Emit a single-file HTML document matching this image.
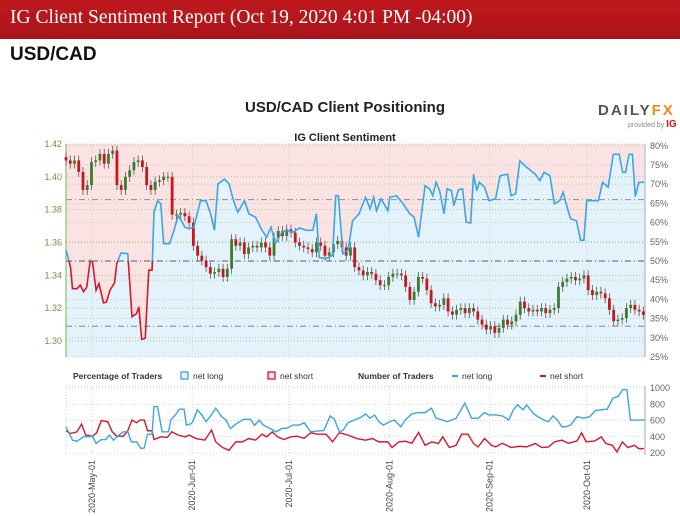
<!DOCTYPE html>
<html><head><meta charset="utf-8">
<style>
body{margin:0;background:#fff;width:680px;height:516px;overflow:hidden;font-family:"Liberation Sans",sans-serif}
#hdr{position:absolute;left:0;top:0;width:680px;height:39px;background:linear-gradient(#c0191e,#a8141a);}
#hdr span{position:absolute;left:10px;top:7px;font-family:"Liberation Serif",serif;font-size:19.5px;color:#fff;white-space:nowrap}
#pair{position:absolute;left:10px;top:44px;font-size:19px;font-weight:bold;color:#111}
svg{position:absolute;left:0;top:0}
</style></head><body>
<div id="hdr"><span>IG Client Sentiment Report (Oct 19, 2020 4:01 PM -04:00)</span></div>
<div id="pair">USD/CAD</div>
<svg id="c" width="680" height="516"></svg>
<script>
const closes=[1.410,1.408,1.410,1.403,1.392,1.395,1.409,1.410,1.414,1.408,1.414,1.416,1.395,1.392,1.400,1.404,1.409,1.410,1.406,1.395,1.392,1.397,1.398,1.400,1.400,1.377,1.377,1.378,1.376,1.372,1.358,1.352,1.349,1.345,1.341,1.342,1.344,1.339,1.344,1.362,1.358,1.360,1.353,1.357,1.358,1.357,1.360,1.357,1.352,1.363,1.367,1.364,1.368,1.366,1.360,1.358,1.357,1.356,1.354,1.360,1.358,1.352,1.354,1.359,1.361,1.357,1.352,1.357,1.345,1.343,1.340,1.342,1.341,1.337,1.334,1.334,1.339,1.341,1.341,1.340,1.333,1.325,1.330,1.339,1.338,1.331,1.323,1.321,1.322,1.326,1.318,1.316,1.319,1.320,1.317,1.320,1.318,1.313,1.310,1.307,1.309,1.305,1.308,1.313,1.310,1.312,1.316,1.324,1.320,1.318,1.319,1.318,1.320,1.317,1.319,1.320,1.333,1.336,1.338,1.339,1.337,1.338,1.340,1.331,1.328,1.330,1.329,1.326,1.319,1.312,1.313,1.314,1.320,1.322,1.319,1.318,1.316];
const sentDays=[0,1.4,2,3.4,4.4,5.4,6.4,7.5,8.2,9.3,10.2,11.6,12.5,13.6,15,15.7,17,19.1,20.4,21.8,22.5,23.4,24.5,25.6,26.6,27.2,28.3,29.3,30.2,32,33.4,34.7,36.8,38.1,39.5,41.6,43.3,44.7,45.9,47,49,50.4,51.8,53.1,55.2,56.5,58.6,60.6,62,63.4,64.7,66.8,68.1,70.2,72.2,74.3,76.3,77.4,78.3,80.4,82.4,83.4,84.2,85.6,87.2,88.6,90.6,92.6,94,95.1,96,97.4,99.5,100.1,102.2,104.2,106.3,107.6,109,111,112.4,113.4,114.4,115.5,116.9,117.8,119.2,119.9,121.3,122.6,123.7,125.1,126,127,127.8,129.4,130.8,132.8,134.2,136.5,137.6,139,140.3,142.4,145.1,146.5,147.8,149.6,151,152.6,153.7,154.6,156,157.8,159.1,160.1,161,162.8,164.6,165.9,167.6,169.2,171,172.1,173,174.1,175.1,176,177.1,178.7];
const sentPct=[52.9,48.4,42.8,42.8,43.7,42,43.1,50.2,49.7,42.4,44.1,39.1,39.3,42.4,44.3,49.3,52.1,51.9,35.5,36.3,38.1,29.6,29.9,47.6,47.6,62.7,65.7,64.9,54.5,54.5,58,61.8,58.8,58.4,58.8,65.7,65.7,62.3,58,70.1,71.3,70.1,65.7,62.7,65.7,62.3,61.4,58,56.2,58.8,54.5,57.5,58,57.5,58.6,58,58,62.3,50.9,50.6,51.5,67,67,51.9,52.8,60.5,62.3,66.6,63.6,66.6,63.1,66.2,63.1,66.6,67,64.9,62.3,61.4,56.2,69.6,68.8,67,70.5,68.3,62.3,68.8,68.3,64.4,68.5,68.8,60.1,59.9,72.6,68.3,70.5,69.2,65.7,66.2,72.2,72.6,67,67.5,76.1,74.4,72.6,70.9,73.1,72.2,64.9,65.7,67.9,64.9,61,60.5,55.4,55.4,65.7,65.7,65.7,70.5,69.2,77.8,77.8,73.1,73.1,77.8,77.8,66.8,70.5,70.5];
const longDays=[0,2,3.4,5.4,6.8,8.2,9.3,10.9,12.3,13.4,14.7,16.3,17.7,19.1,20.2,21.8,23.2,24.2,25.2,26.6,27.2,28.3,29.7,31.7,32.4,33.8,35.1,36.5,37.2,38.6,39.2,40.6,42,43.3,44.7,46.3,48.1,49.5,50.8,52.9,54.9,57,58.3,59.7,61,62,65,66.8,68.1,70.2,72.2,73.6,75.6,77.7,79.7,81.7,83,84.5,85.6,87.2,89.2,91.2,92.6,94,95.4,96.7,98.1,100.1,101.5,103.5,104.9,106.9,108.9,111,113,114.4,115.7,117.8,120.6,123.3,125.4,127.4,129.4,130.8,132.8,134.9,136.9,138.3,139.6,141.3,142.4,144.4,145.8,147.8,149.2,150.5,151.9,153.3,154.6,156,158,160.1,161.9,163.7,165.3,167.3,169.1,170.7,172.1,173.4,174.5,176.3,179.1];
const longVals=[523,358,345,399,399,407,316,366,366,420,358,420,461,461,337,337,254,262,432,432,772,772,461,461,606,668,739,739,544,560,585,731,668,585,656,751,648,606,503,565,615,615,540,606,544,523,461,503,503,544,544,573,461,470,478,656,615,461,478,573,606,639,681,627,668,585,544,585,606,523,606,681,697,697,751,627,615,585,627,813,627,627,697,668,668,656,606,731,793,731,793,690,648,606,585,656,606,523,523,544,648,627,648,722,731,739,876,896,979,979,606,606,606];
const shortDays=[0,1.4,3.4,4.8,6.1,8.2,9.5,10.9,12.9,14.3,15.7,17.7,19.1,20.4,21.8,22.9,24.2,25.2,26.6,27.2,29.3,31.3,32.7,34.7,36.8,38.1,40.2,42.9,45,46.3,48.4,50.4,52.5,54.5,56.5,58.6,60.6,62,63.8,65.4,67.4,69.5,71.5,73.6,75.6,77.7,80.4,82.4,84.5,87.2,89.9,92.6,94.7,96.7,99.5,100.8,102.9,104.9,106.9,109,111,113.1,115.1,116.5,118.5,120.6,122.3,124.3,126,127.4,129.4,131.5,132.8,134.9,137.6,140.3,142.4,145.1,147.1,149.2,151,153.3,155.3,158,159.4,160.8,163.5,165.5,166.9,168.9,170.3,172,173.7,175.7,177.1,178.7];
const shortVals=[474,440,461,556,420,407,449,598,586,461,407,407,474,606,573,606,606,474,474,366,399,392,461,420,399,420,378,358,482,337,267,234,337,337,378,358,432,399,461,399,366,399,407,380,449,432,432,337,449,420,378,358,378,337,337,267,337,345,320,453,295,337,316,399,267,295,432,432,316,275,378,295,275,320,267,283,275,316,267,275,337,358,320,349,449,337,349,399,316,295,213,337,267,295,254,254];
const priceTicks=[1.30,1.32,1.34,1.36,1.38,1.40,1.42];
const pctTicks=[25,30,35,40,45,50,55,60,65,70,75,80];
const numTicks=[200,400,600,800,1000];
const monthLabels=["2020-May-01","2020-Jun-01","2020-Jul-01","2020-Aug-01","2020-Sep-01","2020-Oct-01"];
const monthDays=[8,39,69,100,131,161];

const NS="http://www.w3.org/2000/svg",svg=document.getElementById('c');
const X0=66,X1=645,D1=179;
const xd=d=>X0+d*(X1-X0)/D1;
const yP=p=>144+(1.42-p)*1641.7;
const yS=s=>261-(s-50)*3.84;
const yN=n=>453-(n-200)*65/800;
const TOP=144,BOT=357;
function el(t,a,txt,par){const e=document.createElementNS(NS,t);for(const k in a)e.setAttribute(k,a[k]);if(txt!=null)e.textContent=txt;(par||svg).appendChild(e);return e;}

let t=el('text',{x:345,y:112,'text-anchor':'middle','font-size':15,'font-weight':'bold',fill:'#222'},'USD/CAD Client Positioning');

t=el('text',{x:345,y:141,'text-anchor':'middle','font-size':11,'font-weight':'bold',fill:'#222'},'IG Client Sentiment');

t=el('text',{x:598,y:115,'font-size':15,'font-weight':'bold',fill:'#555','letter-spacing':'2'},'DAILY');

el('tspan',{fill:'#f08a1c'},'FX',t);
t=el('text',{x:628,y:127,'font-size':7,fill:'#888'},'provided by ');

el('tspan',{fill:'#d0161b','font-weight':'bold','font-size':10},'IG',t);

const defs=el('defs',{});
const cp=el('clipPath',{id:'plot'},null,defs);el('rect',{x:X0,y:TOP,width:X1-X0,height:BOT-TOP},null,cp);
const ca=el('clipPath',{id:'above'},null,defs);el('rect',{x:X0,y:TOP,width:X1-X0,height:yS(50)-TOP},null,ca);
const cb=el('clipPath',{id:'below'},null,defs);el('rect',{x:X0,y:yS(50),width:X1-X0,height:BOT-yS(50)},null,cb);

let pts=sentDays.map((d,i)=>xd(d)+','+yS(sentPct[i])).join(' ');
let a=el('polygon',{points:xd(0)+','+TOP+' '+pts+' '+xd(sentDays[sentDays.length-1])+','+TOP+' '+X1+','+TOP,fill:'#fbe3e4','clip-path':'url(#plot)'});

a=el('polygon',{points:xd(0)+','+BOT+' '+pts+' '+X1+','+yS(sentPct[sentPct.length-1])+' '+X1+','+BOT,fill:'#e3f2fb','clip-path':'url(#plot)'});


pctTicks.forEach(p=>{const g=el('line',{x1:X0,x2:X1,y1:yS(p),y2:yS(p),stroke:'#b9c9a8','stroke-width':0.8,'stroke-dasharray':'1,2'});
 const l=el('text',{x:X1+5,y:yS(p)+3,'font-size':9,fill:'#666'},p+'%');});
priceTicks.forEach(p=>{const g=el('line',{x1:X0,x2:X1,y1:yP(p),y2:yP(p),stroke:'#9cc37a','stroke-width':0.8,'stroke-dasharray':'1,2'});
 const l=el('text',{x:X0-4,y:yP(p)+3,'font-size':9,'text-anchor':'end',fill:'#6a9a3a'},p.toFixed(2));});
monthDays.forEach(d=>{const g=el('line',{x1:xd(d),x2:xd(d),y1:TOP,y2:BOT,stroke:'#ccc','stroke-width':0.8,'stroke-dasharray':'1,2'});});
[[50,'#777'],[66,'#999'],[33,'#999']].forEach(([p,c])=>{const g=el('line',{x1:X0,x2:X1,y1:yS(p),y2:yS(p),stroke:c,'stroke-width':1.2,'stroke-dasharray':'6,3,1,3'});});
let ax=el('line',{x1:X0,x2:X0,y1:TOP,y2:BOT,stroke:'#7ab648','stroke-width':1});
ax=el('line',{x1:X1,x2:X1,y1:TOP,y2:BOT,stroke:'#aaa','stroke-width':1});

const n=closes.length,dDay=178.5/(n-1);
for(let i=0;i<n;i++){
 const o=i?closes[i-1]:closes[0]+0.002,c=closes[i],x=xd(i*dDay),up=c>=o,col=up?'#3a7d2a':'#c8161d';
 const g=el('g',{});
 el('line',{x1:x,x2:x,y1:yP(Math.max(o,c)+0.003),y2:yP(Math.min(o,c)-0.003),stroke:'#555','stroke-width':0.8},null,g);
 el('rect',{x:x-1.4,y:yP(Math.max(o,c)),width:2.8,height:Math.max(1,Math.abs(yP(o)-yP(c))),fill:col},null,g);
}
let s=el('polyline',{points:pts,fill:'none',stroke:'#3aa6e6','stroke-width':1.6,'clip-path':'url(#above)'});
s=el('polyline',{points:pts,fill:'none',stroke:'#d9162a','stroke-width':1.6,'clip-path':'url(#below)'});

const lg=el('g',{'font-size':8.5,fill:'#333'});
el('text',{x:73,y:379,'font-weight':'bold'},'Percentage of Traders',lg);
let le=el('rect',{x:181,y:372,width:7,height:7,fill:'#e3f2fb',stroke:'#3aa6e6','stroke-width':1.3},null,lg);
el('text',{x:193,y:379},'net long',lg);
le=el('rect',{x:268,y:372,width:7,height:7,fill:'#fbe3e4',stroke:'#d9162a','stroke-width':1.3},null,lg);
el('text',{x:280,y:379},'net short',lg);
el('text',{x:358,y:379,'font-weight':'bold'},'Number of Traders',lg);
le=el('line',{x1:452,x2:458,y1:376,y2:376,stroke:'#3aa6e6','stroke-width':2},null,lg);
el('text',{x:462,y:379},'net long',lg);
le=el('line',{x1:540,x2:546,y1:376,y2:376,stroke:'#d9162a','stroke-width':2},null,lg);
el('text',{x:550,y:379},'net short',lg);

const BT=386,BB=455;
numTicks.forEach(v=>{const g=el('line',{x1:X0,x2:X1,y1:yN(v),y2:yN(v),stroke:'#ccc','stroke-width':0.8,'stroke-dasharray':'1,2'});
 const l=el('text',{x:X1+5,y:yN(v)+3,'font-size':9,fill:'#666'},v);});
el('line',{x1:X0,x2:X1,y1:BT,y2:BT,stroke:'#ccc','stroke-width':0.8,'stroke-dasharray':'1,2'});
el('line',{x1:X0,x2:X0,y1:BT,y2:BB,stroke:'#ccc','stroke-width':0.8,'stroke-dasharray':'1,2'});
ax=el('line',{x1:X1,x2:X1,y1:BT,y2:BB,stroke:'#aaa'});
monthDays.forEach((d,i)=>{const g=el('line',{x1:xd(d),x2:xd(d),y1:BT,y2:BB,stroke:'#ccc','stroke-width':0.8,'stroke-dasharray':'1,2'});
 const l=el('text',{x:0,y:0,'font-size':9,fill:'#444','text-anchor':'end',transform:'translate('+(xd(d)+3)+',460) rotate(-90)'},monthLabels[i]);});
s=el('polyline',{points:shortDays.map((d,i)=>xd(d)+','+yN(shortVals[i])).join(' '),fill:'none',stroke:'#d9162a','stroke-width':1.4});
s=el('polyline',{points:longDays.map((d,i)=>xd(Math.min(d,D1))+','+yN(longVals[i])).join(' '),fill:'none',stroke:'#3aa6e6','stroke-width':1.4});
</script>
</body></html>
